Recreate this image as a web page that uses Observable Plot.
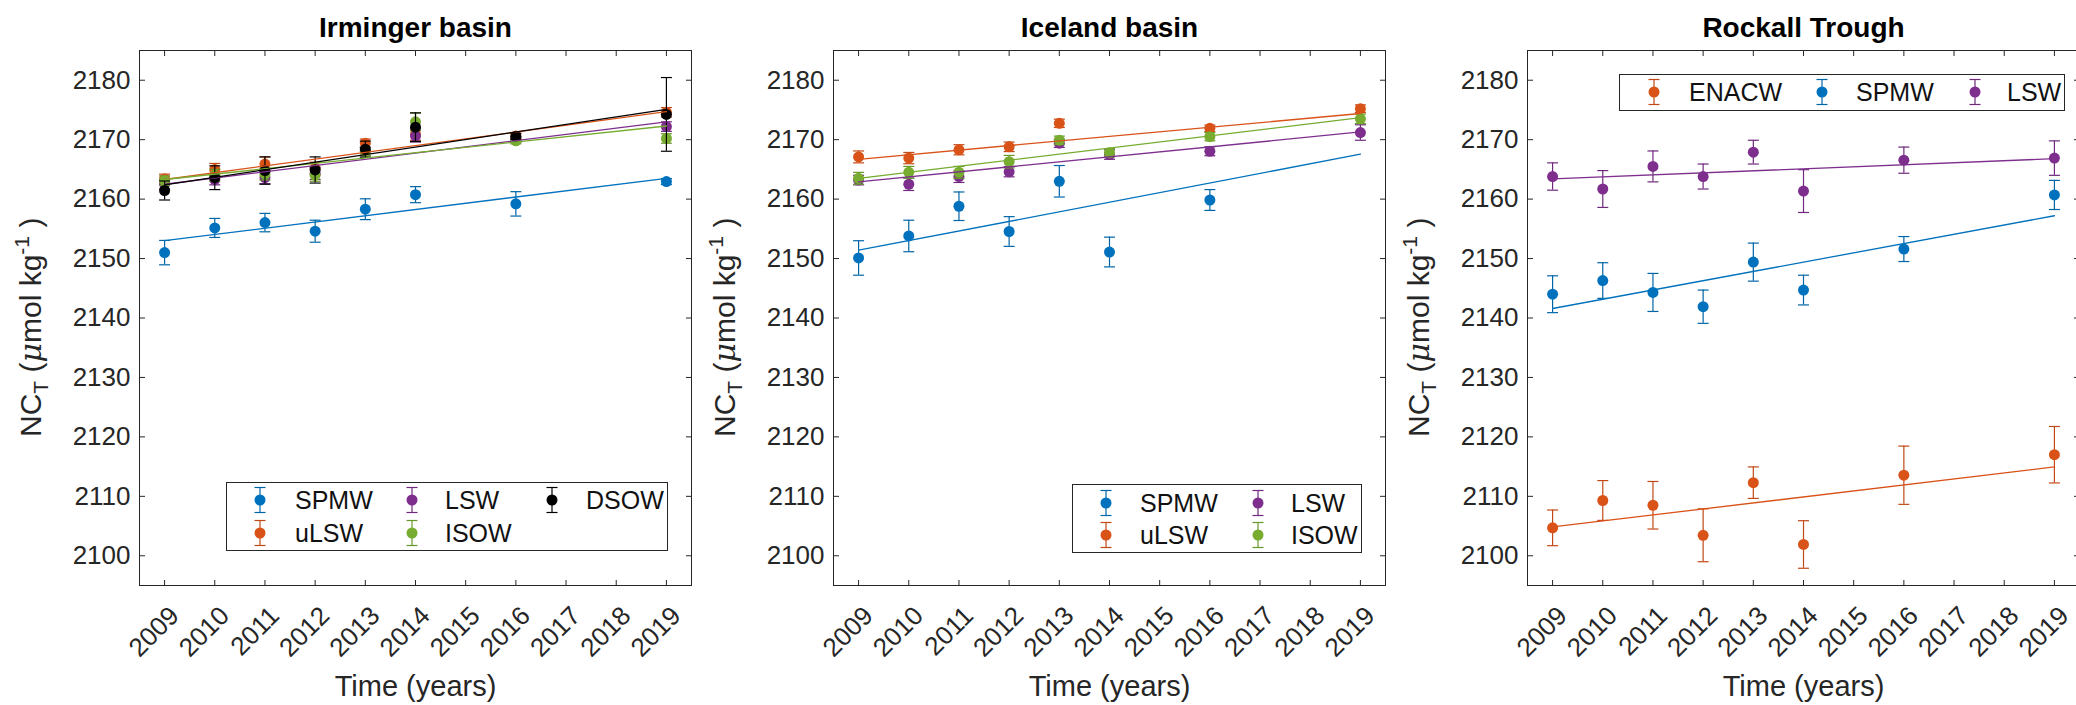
<!DOCTYPE html>
<html><head><meta charset="utf-8">
<script src="https://cdn.jsdelivr.net/npm/d3@7"></script>
<script src="https://cdn.jsdelivr.net/npm/@observablehq/plot@0.6"></script>
<style>
html,body{margin:0;padding:0;background:#fff;overflow:hidden;}
#root{position:relative;width:2076px;height:705px;overflow:hidden;font-family:"Liberation Sans",Arial,Helvetica,sans-serif;color:#262626;}
.panel{position:absolute;top:0;width:694px;height:705px;}
.panel svg{display:block;}
.legend{position:absolute;border:1px solid #262626;background:#fff;box-sizing:border-box;}
.lsym{position:absolute;width:20px;height:30px;}
.ltxt{position:absolute;font-size:25px;line-height:26px;height:26px;white-space:nowrap;color:#111;}
</style></head><body><div id="root"></div>
<script>
// ---------- data ----------
const years = [2009, 2010, 2011, 2012, 2013, 2014, 2016, 2019];
const trendYears = [2009, 2019];
const xTicks = [2009, 2010, 2011, 2012, 2013, 2014, 2015, 2016, 2017, 2018, 2019];
const yTicks = [2100, 2110, 2120, 2130, 2140, 2150, 2160, 2170, 2180];
const panelTitles = ["Irminger basin", "Iceland basin", "Rockall Trough"];

// Irminger basin
const irmSPMW    = [2151.0, 2155.15, 2156.05, 2154.6, 2158.3, 2160.75, 2159.2, 2162.95];
const irmSPMWerr = [2.05, 1.6, 1.55, 1.85, 1.75, 1.35, 2.05, 0.5];
const irmSPMWtrend = [2153.0, 2163.5];
const irmULSW    = [2163.4, 2165.0, 2165.9, 2165.2, 2169.4, 2170.9, 2170.6, 2174.6];
const irmULSWerr = [0.8, 1.0, 1.2, 1.0, 0.7, 1.0, 0.5, 0.8];
const irmULSWtrend = [2163.3, 2174.7];
const irmLSW     = [2162.5, 2163.3, 2163.6, 2164.3, 2168.0, 2170.6, 2170.0, 2172.2];
const irmLSWerr  = [0.8, 0.9, 1.0, 1.0, 0.7, 1.0, 0.5, 0.8];
const irmLSWtrend = [2162.5, 2173.0];
const irmISOW    = [2163.1, 2164.0, 2164.2, 2164.0, 2168.0, 2173.0, 2169.8, 2170.2];
const irmISOWerr = [0.8, 1.0, 1.0, 1.0, 0.7, 1.5, 0.5, 0.8];
const irmISOWtrend = [2163.3, 2172.3];
const irmDSOW    = [2161.45, 2163.6, 2164.8, 2164.9, 2168.4, 2172.1, 2170.55, 2174.25];
const irmDSOWerr = [1.6, 2.0, 2.3, 2.2, 1.35, 2.4, 0.5, 6.2];
const irmDSOWtrend = [2162.4, 2175.1];

// Iceland basin
const iceSPMW    = [2150.1, 2153.8, 2158.8, 2154.55, 2163.0, 2151.1, 2159.85, null];
const iceSPMWerr = [2.9, 2.65, 2.4, 2.5, 2.65, 2.5, 1.75, null];
const iceSPMWtrend = [2151.4, 2167.55];
const iceULSW    = [2167.1, 2166.9, 2168.3, 2168.8, 2172.75, null, 2171.9, 2175.2];
const iceULSWerr = [1.0, 0.95, 0.85, 0.8, 0.7, null, 0.55, 0.65];
const iceULSWtrend = [2166.7, 2174.4];
const iceLSW     = [2163.2, 2162.5, 2163.8, 2164.6, 2169.4, 2167.5, 2168.05, 2171.2];
const iceLSWerr  = [0.8, 1.05, 1.0, 0.85, 0.7, 0.8, 0.75, 1.3];
const iceLSWtrend = [2162.9, 2171.3];
const iceISOW    = [2163.5, 2164.5, 2164.5, 2166.3, 2169.9, 2167.8, 2170.5, 2173.5];
const iceISOWerr = [1.0, 1.0, 1.0, 1.05, 0.7, 0.7, 0.7, 0.8];
const iceISOWtrend = [2163.5, 2173.7];

// Rockall Trough
const rtENACW    = [2104.7, 2109.3, 2108.5, 2103.45, 2112.3, 2101.9, 2113.55, 2117.0];
const rtENACWerr = [3.0, 3.35, 4.0, 4.45, 2.65, 4.0, 4.9, 4.75];
const rtENACWtrend = [2104.85, 2114.95];
const rtSPMW     = [2144.0, 2146.3, 2144.3, 2141.9, 2149.4, 2144.7, 2151.6, 2160.7];
const rtSPMWerr  = [3.1, 3.0, 3.2, 2.8, 3.2, 2.5, 2.1, 2.45];
const rtSPMWtrend = [2141.6, 2157.2];
const rtLSW      = [2163.8, 2161.7, 2165.5, 2163.8, 2167.9, 2161.35, 2166.55, 2166.9];
const rtLSWerr   = [2.3, 3.1, 2.6, 2.1, 2.0, 3.6, 2.2, 2.9];
const rtLSWtrend = [2163.4, 2166.8];

// colours
const C = {blue: "#0072BD", orange: "#D95319", purple: "#7E2F8E", green: "#77AC30", black: "#000000"};

// ---------- panels ----------
const panels = [
  {
    title: panelTitles[0], left: 0,
    series: [
      {name: "SPMW", color: C.blue, v: irmSPMW, e: irmSPMWerr, t: irmSPMWtrend},
      {name: "uLSW", color: C.orange, v: irmULSW, e: irmULSWerr, t: irmULSWtrend},
      {name: "LSW", color: C.purple, v: irmLSW, e: irmLSWerr, t: irmLSWtrend},
      {name: "ISOW", color: C.green, v: irmISOW, e: irmISOWerr, t: irmISOWtrend},
      {name: "DSOW", color: C.black, v: irmDSOW, e: irmDSOWerr, t: irmDSOWtrend}
    ],
    legend: {left: 226, top: 482, width: 442, height: 69,
      items: [[0, 260, 295, 500], [1, 260, 295, 533], [2, 412, 445, 500], [3, 412, 445, 533], [4, 552, 586, 500]]}
  },
  {
    title: panelTitles[1], left: 694,
    series: [
      {name: "SPMW", color: C.blue, v: iceSPMW, e: iceSPMWerr, t: iceSPMWtrend},
      {name: "uLSW", color: C.orange, v: iceULSW, e: iceULSWerr, t: iceULSWtrend},
      {name: "LSW", color: C.purple, v: iceLSW, e: iceLSWerr, t: iceLSWtrend},
      {name: "ISOW", color: C.green, v: iceISOW, e: iceISOWerr, t: iceISOWtrend}
    ],
    legend: {left: 378, top: 484, width: 290, height: 69,
      items: [[0, 412, 446, 503], [1, 412, 446, 535], [2, 564, 597, 503], [3, 564, 597, 535]]}
  },
  {
    title: panelTitles[2], left: 1388,
    series: [
      {name: "ENACW", color: C.orange, v: rtENACW, e: rtENACWerr, t: rtENACWtrend},
      {name: "SPMW", color: C.blue, v: rtSPMW, e: rtSPMWerr, t: rtSPMWtrend},
      {name: "LSW", color: C.purple, v: rtLSW, e: rtLSWerr, t: rtLSWtrend}
    ],
    legend: {left: 231, top: 74, width: 446, height: 37,
      items: [[0, 266, 301, 92], [1, 434, 468, 92], [2, 587, 619, 92]]}
  }
];

const capSymbol = {draw(ctx, size) { const r = Math.sqrt(size / Math.PI); ctx.moveTo(-r, 0); ctx.lineTo(r, 0); }};
const whisker = c => d3.color(c).darker(0.35).formatHex();
const FONT = '"Liberation Sans", Arial, Helvetica, sans-serif';
const INK = "#262626";

function seriesRows(s) {
  return years.map((yr, i) => ({year: yr, value: s.v[i], err: s.e[i], series: s.name}))
              .filter(d => d.value != null);
}
function trendRows(s) {
  return trendYears.map((yr, i) => ({year: yr, value: s.t[i], series: s.name}));
}

const root = document.getElementById("root");

panels.forEach(p => {
  const marks = [
    Plot.frame({stroke: INK, strokeWidth: 1}),
    Plot.axisY({ticks: yTicks, tickSize: -6, tickPadding: 15, tickFormat: d => String(d), fontSize: 26, label: null, color: INK}),
    Plot.axisY({anchor: "right", ticks: yTicks, tickSize: -6, tickFormat: () => "", label: null, color: INK}),
    Plot.axisX({anchor: "top", ticks: xTicks, tickSize: -5, tickFormat: () => "", label: null, color: INK}),
    Plot.axisX({anchor: "bottom", ticks: xTicks, tickSize: -5, tickFormat: () => "", label: null, color: INK}),
    Plot.text(xTicks, {x: d => d, frameAnchor: "bottom", lineAnchor: "middle", text: d => String(d), rotate: -45, textAnchor: "end", dx: 10, dy: 26, fontSize: 26, fill: INK}),
    Plot.text(["Time (years)"], {frameAnchor: "bottom", lineAnchor: "middle", dy: 101, fontSize: 29, fill: INK}),
    Plot.text([p.title], {frameAnchor: "top", lineAnchor: "middle", dy: -22, fontSize: 28, fontWeight: "bold", fill: "#000"})
  ];
  p.series.forEach(s => {
    const rows = seriesRows(s);
    const wc = whisker(s.color);
    marks.push(
      Plot.ruleX(rows, {x: "year", y1: d => d.value - d.err, y2: d => d.value + d.err, stroke: wc, strokeWidth: 1.2}),
      Plot.dot(rows, {x: "year", y: d => d.value - d.err, symbol: capSymbol, r: 5.5, stroke: wc, fill: "none", strokeWidth: 1.2}),
      Plot.dot(rows, {x: "year", y: d => d.value + d.err, symbol: capSymbol, r: 5.5, stroke: wc, fill: "none", strokeWidth: 1.2}),
      Plot.dot(rows, {x: "year", y: "value", r: 5.5, fill: s.color, stroke: "none"})
    );
  });
  p.series.forEach(s => {
    marks.push(Plot.line(trendRows(s), {x: "year", y: "value", stroke: s.color, strokeWidth: 1.3}));
  });

  const svg = Plot.plot({
    width: 694, height: 705,
    marginLeft: 139, marginRight: 3, marginTop: 50, marginBottom: 120,
    x: {domain: [2008.5, 2019.5]},
    y: {domain: [2095, 2185]},
    style: {fontFamily: FONT, background: "white", overflow: "visible"},
    marks
  });

  // y-axis label with subscript / superscript (starts at the bottom, reads upward)
  const t = d3.select(svg).append("text")
    .attr("transform", "translate(41,437) rotate(-90)")
    .attr("text-anchor", "start")
    .attr("font-size", 30)
    .attr("font-family", FONT)
    .attr("fill", INK);
  t.append("tspan").text("NC");
  t.append("tspan").attr("font-size", 21).attr("dy", 7).text("T");
  t.append("tspan").attr("dy", -7).text(" (");
  t.append("tspan").attr("font-style", "italic").attr("font-family", '"DejaVu Serif", "Liberation Serif", serif').text("μ");
  t.append("tspan").text("mol kg");
  t.append("tspan").attr("font-size", 21).attr("dy", -12).text("-1");
  t.append("tspan").attr("dy", 12).text(" )");

  const div = document.createElement("div");
  div.className = "panel";
  div.style.left = p.left + "px";
  div.appendChild(svg);

  // legend
  const lg = document.createElement("div");
  lg.className = "legend";
  Object.assign(lg.style, {left: p.legend.left + "px", top: p.legend.top + "px", width: p.legend.width + "px", height: p.legend.height + "px"});
  div.appendChild(lg);
  p.legend.items.forEach(([si, sx, tx, ry]) => {
    const s = p.series[si];
    const wc = whisker(s.color);
    const sym = document.createElement("div");
    sym.className = "lsym";
    sym.style.left = (sx - 10) + "px";
    sym.style.top = (ry - 15) + "px";
    sym.innerHTML = `<svg width="20" height="30" viewBox="-10 -15 20 30">
      <line x1="0" y1="-12.5" x2="0" y2="12.5" stroke="${wc}" stroke-width="1.2"/>
      <line x1="-5.5" y1="-12.5" x2="5.5" y2="-12.5" stroke="${wc}" stroke-width="1.2"/>
      <line x1="-5.5" y1="12.5" x2="5.5" y2="12.5" stroke="${wc}" stroke-width="1.2"/>
      <circle r="5.5" fill="${s.color}"/></svg>`;
    div.appendChild(sym);
    const tx_ = document.createElement("div");
    tx_.className = "ltxt";
    tx_.style.left = tx + "px";
    tx_.style.top = (ry - 13) + "px";
    tx_.textContent = s.name;
    div.appendChild(tx_);
  });

  root.appendChild(div);
});
</script>
</body></html>
